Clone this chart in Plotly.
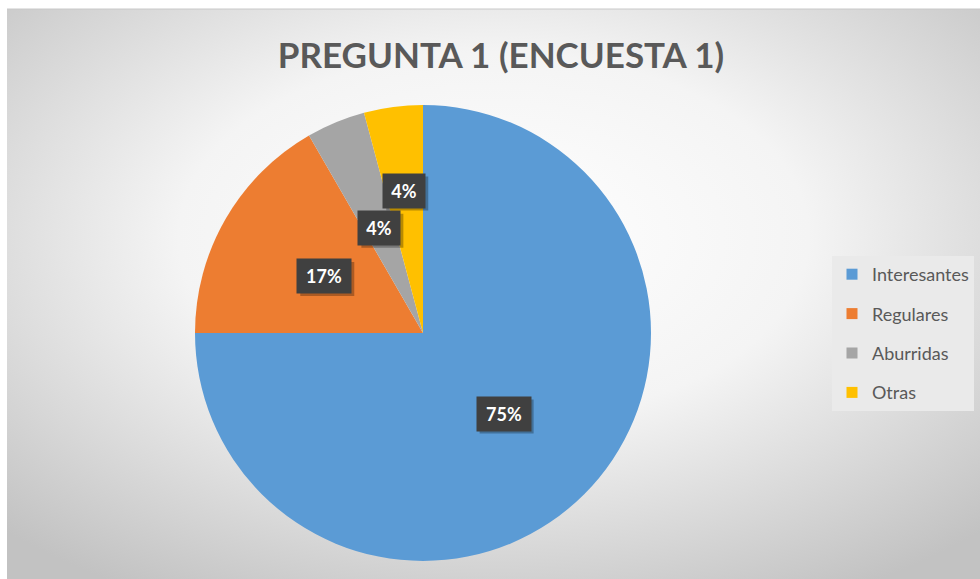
import math
import urllib.parse
import plotly.graph_objects as go

# ---- data ----
categories = ["Interesantes", "Regulares", "Aburridas", "Otras"]
counts = [18, 4, 1, 1]
colors = ["#5B9BD5", "#ED7D31", "#A5A5A5", "#FFC000"]
title_text = "PREGUNTA 1 (ENCUESTA 1)"

# ---- layout geometry (pixels) ----
W, H = 980, 579
CX, CY, R = 423, 333, 228
label_dist = [0.5, 0.5, 0.5, 0.63]
PAD = 8
BOX_H = 18

fig = go.Figure()

fig.add_trace(go.Pie(
    labels=categories, values=counts, sort=False, direction="clockwise", rotation=0,
    marker=dict(colors=colors, line=dict(width=0)),
    textinfo="none", hoverinfo="label+percent", showlegend=False,
    domain=dict(x=[(CX - R) / W, (CX + R) / W], y=[(H - CY - R) / H, (H - CY + R) / H]),
))

# legend entries (dummy traces so each gets its own group with spacing)
for name, c in zip(categories, colors):
    fig.add_trace(go.Scatter(x=[None], y=[None], mode="markers", name=name, legendgroup=name,
                             marker=dict(symbol="square", size=11, color=c), hoverinfo="skip"))

# data labels computed from the values
total = sum(counts)
annotations = []
shapes = [dict(type="line", xref="paper", yref="paper", x0=7 / W, x1=1, y0=1 - 9 / H, y1=1 - 9 / H,
               line=dict(color="#c8c8c8", width=1))]
cum = 0
for v, f in zip(counts, label_dist):
    mid = (cum + v / 2) / total * 2 * math.pi
    cum += v
    d = f * R
    px = CX + d * math.sin(mid)
    py = CY - d * math.cos(mid)
    pct = f"{round(v / total * 100)}%"
    bw = 12 * len(pct) + 2
    hw, hh = bw / 2 + PAD, BOX_H / 2 + PAD
    shapes.append(dict(type="rect", xref="paper", yref="paper",
                       x0=(px - hw + 3) / W, x1=(px + hw + 3) / W,
                       y0=1 - (py + hh + 3) / H, y1=1 - (py - hh + 3) / H,
                       fillcolor="rgba(0,0,0,0.28)", line=dict(width=0), layer="above"))
    annotations.append(dict(x=px / W, y=1 - py / H, xref="paper", yref="paper", showarrow=False,
                            text=f"<b>{pct}</b>", width=bw, height=BOX_H, borderpad=PAD,
                            xanchor="center", yanchor="middle", valign="middle",
                            font=dict(family="Lato", size=18, color="white"), bgcolor="#404040"))

svg = ("<svg xmlns='http://www.w3.org/2000/svg' width='973' height='570' preserveAspectRatio='none'>"
       "<defs><radialGradient id='g' cx='0.5' cy='0.4' r='0.72'>"
       "<stop offset='0' stop-color='#ffffff'/><stop offset='0.45' stop-color='#f4f4f4'/>"
       "<stop offset='1' stop-color='#c2c2c2'/></radialGradient></defs>"
       "<rect width='973' height='570' fill='url(#g)'/></svg>")
src = "data:image/svg+xml;charset=utf-8," + urllib.parse.quote(svg)

fig.update_layout(
    width=W, height=H, margin=dict(l=0, r=0, t=0, b=0),
    paper_bgcolor="white", plot_bgcolor="rgba(0,0,0,0)",
    images=[dict(source=src, xref="paper", yref="paper", x=7 / W, y=1 - 9 / H,
                 sizex=(W - 7) / W, sizey=(H - 9) / H, xanchor="left", yanchor="top",
                 sizing="stretch", layer="below")],
    shapes=shapes,
    title=dict(text=f"<b>{title_text}</b>", x=501 / W, xanchor="center", y=1 - 56 / H, yanchor="middle",
               font=dict(family="Lato", size=35, color="#595959")),
    xaxis=dict(visible=False), yaxis=dict(visible=False),
    legend=dict(x=832 / W, y=1 - 256 / H, xanchor="left", yanchor="top", bgcolor="#eaeaea",
                font=dict(family="Lato", size=18, color="#595959"), tracegroupgap=13,
                itemclick=False),
    annotations=annotations,
    showlegend=True,
)

fig.write_html("out.html", config={"displayModeBar": False},
               post_script="document.body.style.margin='0';")
